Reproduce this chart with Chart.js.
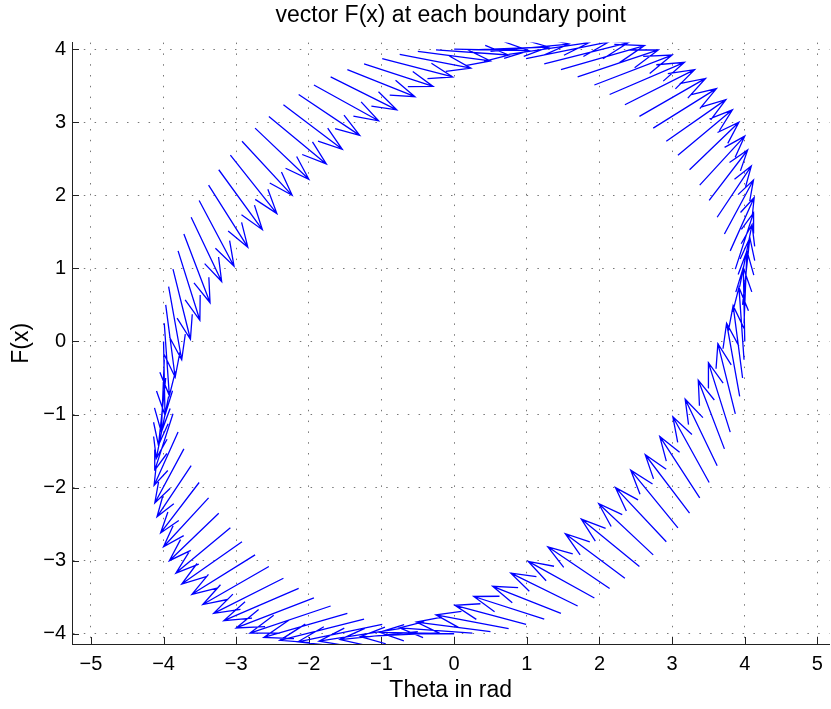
<!DOCTYPE html>
<html>
<head>
<meta charset="utf-8">
<title>vector F(x) at each boundary point</title>
<script src="https://cdn.jsdelivr.net/npm/chart.js@4.4.0/dist/chart.umd.min.js"></script>
<style>
  html, body { margin: 0; padding: 0; background: #fff; }
</style>
</head>
<body>
<canvas id="quiver" width="831" height="709"></canvas>
<script>
const xTicks = [-5, -4, -3, -2, -1, 0, 1, 2, 3, 4, 5];
const yTicks = [-4, -3, -2, -1, 0, 1, 2, 3, 4];

// boundary points (arrow tails)
const baseX = [4.00, 3.99, 3.97, 3.93, 3.87, 3.80, 3.72, 3.62, 3.51, 3.38, 3.24, 3.08, 2.92, 2.74, 2.55, 2.35, 2.14, 1.93, 1.70, 1.47, 1.24, 0.99, 0.75, 0.50, 0.25,
  0.00, -0.25, -0.50, -0.75, -0.99, -1.24, -1.47, -1.70, -1.93, -2.14, -2.35, -2.55, -2.74, -2.92, -3.08, -3.24, -3.38, -3.51, -3.62, -3.72, -3.80, -3.87, -3.93, -3.97, -3.99,
  -4.00, -3.99, -3.97, -3.93, -3.87, -3.80, -3.72, -3.62, -3.51, -3.38, -3.24, -3.08, -2.92, -2.74, -2.55, -2.35, -2.14, -1.93, -1.70, -1.47, -1.24, -0.99, -0.75, -0.50, -0.25,
  0.00, 0.25, 0.50, 0.75, 0.99, 1.24, 1.47, 1.70, 1.93, 2.14, 2.35, 2.55, 2.74, 2.92, 3.08, 3.24, 3.38, 3.51, 3.62, 3.72, 3.80, 3.87, 3.93, 3.97, 3.99];
const baseY = [0.00, 0.25, 0.50, 0.75, 0.99, 1.24, 1.47, 1.70, 1.93, 2.14, 2.35, 2.55, 2.74, 2.92, 3.08, 3.24, 3.38, 3.51, 3.62, 3.72, 3.80, 3.87, 3.93, 3.97, 3.99,
  4.00, 3.99, 3.97, 3.93, 3.87, 3.80, 3.72, 3.62, 3.51, 3.38, 3.24, 3.08, 2.92, 2.74, 2.55, 2.35, 2.14, 1.93, 1.70, 1.47, 1.24, 0.99, 0.75, 0.50, 0.25,
  0.00, -0.25, -0.50, -0.75, -0.99, -1.24, -1.47, -1.70, -1.93, -2.14, -2.35, -2.55, -2.74, -2.92, -3.08, -3.24, -3.38, -3.51, -3.62, -3.72, -3.80, -3.87, -3.93, -3.97, -3.99,
  -4.00, -3.99, -3.97, -3.93, -3.87, -3.80, -3.72, -3.62, -3.51, -3.38, -3.24, -3.08, -2.92, -2.74, -2.55, -2.35, -2.14, -1.93, -1.70, -1.47, -1.24, -0.99, -0.75, -0.50, -0.25];

// F(x) components at each point
const vecU = [-0.02, 0.04, 0.10, 0.17, 0.25, 0.33, 0.40, 0.47, 0.53, 0.62,
  0.68, 0.75, 0.82, 0.87, 0.91, 0.96, 1.03, 1.07, 1.11, 1.15,
  1.16, 1.14, 1.11, 1.08, 1.05, 1.03, 1.00, 1.00, 0.98, 0.97,
  0.95, 0.93, 0.91, 0.89, 0.84, 0.81, 0.79, 0.74, 0.69, 0.64,
  0.60, 0.54, 0.48, 0.42, 0.36, 0.30, 0.24, 0.18, 0.13, 0.07,
  0.02, -0.04, -0.10, -0.17, -0.25, -0.33, -0.40, -0.47, -0.53, -0.62,
  -0.68, -0.75, -0.83, -0.87, -0.91, -0.96, -1.03, -1.07, -1.11, -1.15,
  -1.16, -1.16, -1.11, -1.07, -1.04, -1.03, -1.00, -1.02, -1.00, -0.98,
  -0.97, -0.94, -0.92, -0.91, -0.85, -0.82, -0.80, -0.75, -0.70, -0.65,
  -0.61, -0.55, -0.50, -0.44, -0.36, -0.30, -0.24, -0.18, -0.13, -0.07];
const vecV = [1.01, 0.99, 0.92, 0.85, 0.77, 0.73, 0.74, 0.70, 0.69, 0.67,
  0.65, 0.62, 0.57, 0.54, 0.52, 0.48, 0.44, 0.41, 0.37, 0.33,
  0.29, 0.23, 0.16, 0.10, 0.04, -0.02, -0.07, -0.13, -0.19, -0.25,
  -0.31, -0.37, -0.45, -0.49, -0.56, -0.61, -0.65, -0.70, -0.74, -0.80,
  -0.82, -0.85, -0.90, -0.88, -0.94, -0.95, -0.96, -1.00, -0.99, -0.99,
  -1.01, -0.99, -0.92, -0.85, -0.77, -0.73, -0.74, -0.70, -0.69, -0.67,
  -0.65, -0.62, -0.58, -0.54, -0.52, -0.48, -0.44, -0.41, -0.37, -0.33,
  -0.29, -0.24, -0.17, -0.11, -0.05, 0.02, 0.07, 0.13, 0.19, 0.26,
  0.31, 0.37, 0.45, 0.50, 0.57, 0.61, 0.65, 0.70, 0.74, 0.79,
  0.80, 0.84, 0.90, 0.91, 0.94, 0.95, 0.96, 1.00, 0.99, 0.99];

// quiver style arrow heads
const HEAD_LEN = 0.33;
const HEAD_WIDTH = 0.33;
const FONT = '"Liberation Sans", Arial, sans-serif';

function gap() {
  return { x: NaN, y: NaN };
}

// shafts and heads as one broken polyline
function buildArrows() {
  let pts = [];
  for (let i = 0; i < baseX.length; i++) {
    let x = baseX[i], y = baseY[i], u = vecU[i], v = vecV[i];
    let hx = x + u, hy = y + v;
    pts.push({ x: x, y: y }, { x: hx, y: hy }, gap());
    pts.push({ x: hx - HEAD_LEN * (u + HEAD_WIDTH * v), y: hy - HEAD_LEN * (v - HEAD_WIDTH * u) });
    pts.push({ x: hx, y: hy });
    pts.push({ x: hx - HEAD_LEN * (u - HEAD_WIDTH * v), y: hy - HEAD_LEN * (v + HEAD_WIDTH * u) });
    pts.push(gap());
  }
  return pts;
}

function tickText(v) {
  return v < 0 ? '\u2212' + Math.abs(v) : String(v);
}

// tick marks pointing into the plot
const innerTicks = {
  id: 'innerTicks',
  beforeDatasetsDraw(chart) {
    const { ctx, chartArea: a, scales } = chart;
    ctx.save();
    ctx.strokeStyle = '#222';
    ctx.lineWidth = 1;
    ctx.beginPath();
    xTicks.forEach(v => {
      let px = Math.round(scales.x.getPixelForValue(v)) + 0.5;
      ctx.moveTo(px, a.bottom);
      ctx.lineTo(px, a.bottom - 7);
    });
    yTicks.forEach(v => {
      let py = Math.round(scales.y.getPixelForValue(v)) + 0.5;
      ctx.moveTo(a.left, py);
      ctx.lineTo(a.left + 7, py);
    });
    ctx.stroke();
    ctx.restore();
  }
};

const gridStyle = { color: '#777', lineWidth: 1, drawTicks: false };
const borderStyle = { color: '#222', width: 1, dash: [1.5, 9.3] };

new Chart(document.getElementById('quiver'), {
  type: 'scatter',
  data: {
    datasets: [{
      data: buildArrows(),
      showLine: true,
      spanGaps: false,
      borderColor: '#0000ff',
      borderWidth: 1.3,
      pointRadius: 0,
      pointHoverRadius: 0,
      fill: false
    }]
  },
  options: {
    responsive: false,
    animation: false,
    devicePixelRatio: 1,
    layout: { padding: 0 },
    plugins: {
      legend: { display: false },
      tooltip: { enabled: false },
      title: {
        display: true,
        fullSize: false,
        text: 'vector F(x) at each boundary point',
        color: '#000',
        font: { family: FONT, size: 23, weight: 'normal', lineHeight: 1.2 },
        padding: { top: 2, bottom: 13 }
      }
    },
    scales: {
      x: {
        type: 'linear',
        min: -5.26,
        max: 5.165,
        afterBuildTicks: s => { s.ticks = xTicks.map(v => ({ value: v })); },
        afterFit: s => { s.height = 65; },
        ticks: { color: '#000', font: { family: FONT, size: 20 }, padding: 8, maxRotation: 0, autoSkip: false, callback: tickText },
        grid: gridStyle,
        border: borderStyle,
        title: { display: true, text: 'Theta in rad', color: '#000', font: { family: FONT, size: 23 }, padding: { top: 0, bottom: 5 } }
      },
      y: {
        type: 'linear',
        min: -4.14,
        max: 4.09,
        afterBuildTicks: s => { s.ticks = yTicks.map(v => ({ value: v })); },
        afterFit: s => { s.width = 72; },
        ticks: { color: '#000', font: { family: FONT, size: 20 }, padding: 6, autoSkip: false, callback: tickText },
        grid: gridStyle,
        border: borderStyle,
        title: { display: true, text: 'F(x)', color: '#000', font: { family: FONT, size: 23 }, padding: { top: 8, bottom: 0 } }
      }
    }
  },
  plugins: [innerTicks]
});
</script>
</body>
</html>
